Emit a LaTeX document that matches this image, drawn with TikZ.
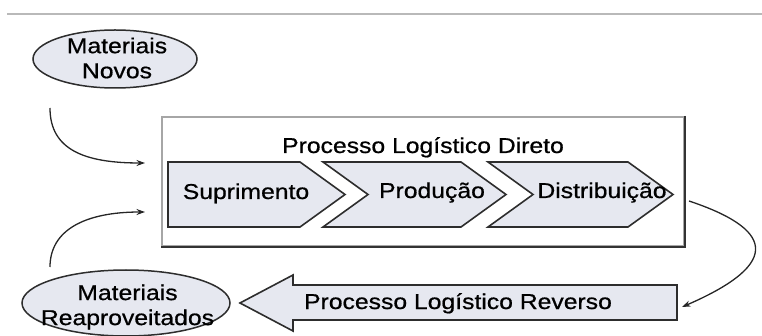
\documentclass[tikz,border=0pt]{standalone}
\usepackage{fontspec}
\setmainfont[FakeStretch=1.15,FakeBold=0.7]{Liberation Sans}
\usetikzlibrary{arrows.meta,shapes.geometric}
\definecolor{pfill}{RGB}{230,232,240}
\definecolor{pline}{RGB}{45,45,45}
\begin{document}
\begin{tikzpicture}[x=1pt,y=-1pt,
  txt/.style={font=\fontsize{21.5}{25}\selectfont, inner sep=0pt, align=center},
  blob/.style={ellipse, draw=pline, line width=1.5pt, fill=pfill, inner sep=0pt},
  chev/.style={draw=pline, line width=1.6pt, fill=pfill, line join=miter},
  conn/.style={line width=1.3pt, draw=black!85, -{Stealth[length=8.5pt,width=6pt]}}
]
\useasboundingbox (0,0) rectangle (762,336);
% top rule
\coordinate (ruleL) at (7,14);
\coordinate (ruleR) at (762,14);
\draw[gray!55, line width=2pt] (ruleL) -- (ruleR);

% ellipses
\node[blob, minimum width=164pt, minimum height=58pt] (novos) at (115,59) {};
\node[txt] (novosT) at (117,58) {Materiais\\Novos};
\node[blob, minimum width=208pt, minimum height=66pt] (reap) at (126,303) {};
\node[txt] (reapT) at (127.5,307) {Materiais\\Reaproveitados};

% main box
\node[draw=gray!70, line width=2pt, minimum width=522pt, minimum height=129pt, inner sep=0pt] (box) at (423,181.5) {};
\draw[black!80, line width=1.6pt] (box.north east) -- (box.south east) -- (box.south west);
\node[txt, anchor=base] (title) at (423,153) {Processo Logístico Direto};

% chevrons
\draw[chev] (168,162) -- (300,162) -- (345,194.5) -- (300,227) -- (168,227) -- cycle;
\draw[chev] (323,162) -- (461,162) -- (506,194.5) -- (461,227) -- (323,227) -- (368,194.5) -- cycle;
\draw[chev] (488,162) -- (628,162) -- (673,194.5) -- (628,227) -- (488,227) -- (533,194.5) -- cycle;
\node[txt, anchor=base] (sup) at (246,199) {Suprimento};
\node[txt, anchor=base] (prod) at (432,198) {Produção};
\node[txt, anchor=base] (dist) at (602,198) {Distribuição};

% reverse arrow
\draw[chev] (240,303) -- (293,275) -- (293,285) -- (677,285) -- (677,320) -- (293,320) -- (293,331) -- cycle;
\node[txt, anchor=base] (rev) at (458,309) {Processo Logístico Reverso};

% connectors
\coordinate (a1s) at (50,108);
\coordinate (a1e) at (145,163);
\coordinate (a2s) at (50,267);
\coordinate (a2e) at (145,212);
\coordinate (a3s) at (689,201);
\coordinate (a3e) at (682,307);
\draw[conn] (a1s) .. controls (50,150) and (85,163) .. (a1e);
\draw[conn] (a2s) .. controls (50,230) and (85,212) .. (a2e);
\draw[conn] (a3s) .. controls (770,228) and (786,262) .. (a3e);
\end{tikzpicture}
\end{document}
